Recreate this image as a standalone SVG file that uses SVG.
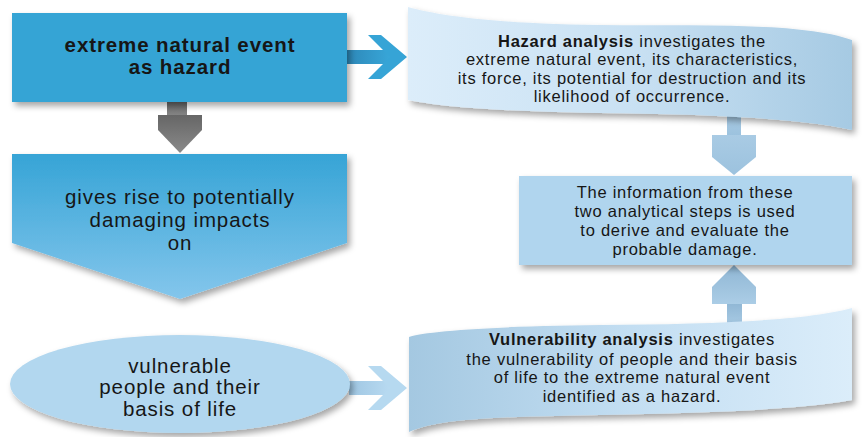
<svg xmlns="http://www.w3.org/2000/svg" width="866" height="437" viewBox="0 0 866 437">
<defs>
<style>
text{font-family:"Liberation Sans",Arial,Helvetica,sans-serif;fill:#161616;text-anchor:middle}
.big{font-size:20.5px;letter-spacing:0.9px}
.bold{font-weight:bold}
.sm{font-size:16.5px;letter-spacing:0.75px}
</style>
<filter id="sh" x="-10%" y="-10%" width="125%" height="135%">
<feDropShadow dx="3" dy="4" stdDeviation="3" flood-color="#000" flood-opacity="0.35"/>
</filter>
<linearGradient id="gPent" x1="0" y1="0" x2="0" y2="1">
<stop offset="0" stop-color="#36a4d6"/>
<stop offset="1" stop-color="#84c6ec"/>
</linearGradient>
<linearGradient id="gHaz" x1="0" y1="0" x2="1" y2="0">
<stop offset="0" stop-color="#dcedfa"/>
<stop offset="0.5" stop-color="#c9e1f3"/>
<stop offset="1" stop-color="#a6cae3"/>
</linearGradient>
<linearGradient id="gVul" x1="0" y1="0" x2="1" y2="0">
<stop offset="0" stop-color="#a4c8e1"/>
<stop offset="0.5" stop-color="#c3def2"/>
<stop offset="1" stop-color="#dbedfa"/>
</linearGradient>
<linearGradient id="gGrey" x1="0" y1="0" x2="0" y2="1">
<stop offset="0" stop-color="#666"/>
<stop offset="1" stop-color="#8a8a8a"/>
</linearGradient>
<linearGradient id="gShaftBlue" x1="0" y1="0" x2="1" y2="0">
<stop offset="0" stop-color="#2d88b8"/>
<stop offset="1" stop-color="#38a6d8"/>
</linearGradient>
<linearGradient id="gShaftLight" x1="0" y1="0" x2="1" y2="0">
<stop offset="0" stop-color="#9fc6e2"/>
<stop offset="1" stop-color="#b8daf1"/>
</linearGradient>
<linearGradient id="gDown" x1="0" y1="0" x2="0" y2="1">
<stop offset="0" stop-color="#a9cbe4"/>
<stop offset="1" stop-color="#9cc2de"/>
</linearGradient>
<linearGradient id="gUp" x1="0" y1="0" x2="0" y2="1">
<stop offset="0" stop-color="#8fb6d4"/>
<stop offset="1" stop-color="#abcde6"/>
</linearGradient>
</defs>
<rect width="866" height="437" fill="#fff"/>

<g id="connectors">
<g id="arrow-event-impacts">
<rect x="167" y="102" width="20" height="16" fill="url(#gGrey)"/>
<polygon points="158,115 202,115 202,130 180,153 158,130" fill="url(#gGrey)"/>
</g>
<g id="arrow-event-hazard">
<rect x="347" y="50" width="43" height="14" fill="url(#gShaftBlue)"/>
<polygon points="368,35 381,35 407,57 381,79 368,79 390,57" fill="#36a4d6"/>
</g>
<g id="arrow-vulnerable-vuln">
<rect x="349" y="381" width="41" height="14" fill="url(#gShaftLight)"/>
<polygon points="368,366 381,366 407,388 381,410 368,410 390,388" fill="#b6d9f0"/>
</g>
<g id="arrow-hazard-damage">
<rect x="727" y="112" width="14" height="24" fill="url(#gDown)"/>
<polygon points="712,135 756,135 756,157 734,175 712,157" fill="url(#gDown)"/>
</g>
<g id="arrow-vuln-damage">
<rect x="727" y="302" width="15" height="26" fill="url(#gUp)"/>
<polygon points="734,265 756,287 756,304 712,304 712,287" fill="url(#gUp)"/>
</g>
</g>

<g id="node-hazard-event">
<rect x="12" y="13" width="335" height="89" fill="#35a4d5" filter="url(#sh)"/>
<text class="big bold" x="180" y="52">extreme natural event</text>
<text class="big bold" x="180" y="74">as hazard</text>
</g>

<g id="node-impacts">
<polygon points="12,154 347,154 347,243 180,299 12,243" fill="url(#gPent)" filter="url(#sh)"/>
<text class="big" x="180" y="204">gives rise to potentially</text>
<text class="big" x="180" y="227">damaging impacts</text>
<text class="big" x="180" y="250">on</text>
</g>

<g id="node-vulnerable">
<ellipse cx="180" cy="384" rx="170" ry="49" fill="#b2d7ef" filter="url(#sh)"/>
<text class="big" x="180" y="373">vulnerable</text>
<text class="big" x="180" y="394">people and their</text>
<text class="big" x="180" y="416">basis of life</text>
</g>

<g id="node-hazard-analysis">
<path d="M408,7 C440,16 500,24 600,25 C700,26 800,22 852,40 L852,130 C800,118 700,114 600,113 C500,111 450,108 408,100 Z" fill="url(#gHaz)" filter="url(#sh)"/>
<text class="sm" x="632" y="47"><tspan class="bold">Hazard analysis</tspan> investigates the</text>
<text class="sm" x="632" y="65">extreme natural event, its characteristics,</text>
<text class="sm" x="632" y="84">its force, its potential for destruction and its</text>
<text class="sm" x="632" y="102">likelihood of occurrence.</text>
</g>

<g id="node-damage">
<rect x="519" y="176" width="333" height="89" fill="#b0d5ee" filter="url(#sh)"/>
<text class="sm" x="685" y="198">The information from these</text>
<text class="sm" x="685" y="217">two analytical steps is used</text>
<text class="sm" x="685" y="236">to derive and evaluate the</text>
<text class="sm" x="685" y="255">probable damage.</text>
</g>

<g id="node-vulnerability-analysis">
<path d="M409,337 C425,331 500,326 600,325 C700,324 800,322 852,308 L852,400 C800,410 700,413 600,415 C500,417 440,418 409,432 Z" fill="url(#gVul)" filter="url(#sh)"/>
<text class="sm" x="632" y="345"><tspan class="bold">Vulnerability analysis</tspan> investigates</text>
<text class="sm" x="632" y="365">the vulnerability of people and their basis</text>
<text class="sm" x="632" y="383">of life to the extreme natural event</text>
<text class="sm" x="632" y="402">identified as a hazard.</text>
</g>
</svg>
